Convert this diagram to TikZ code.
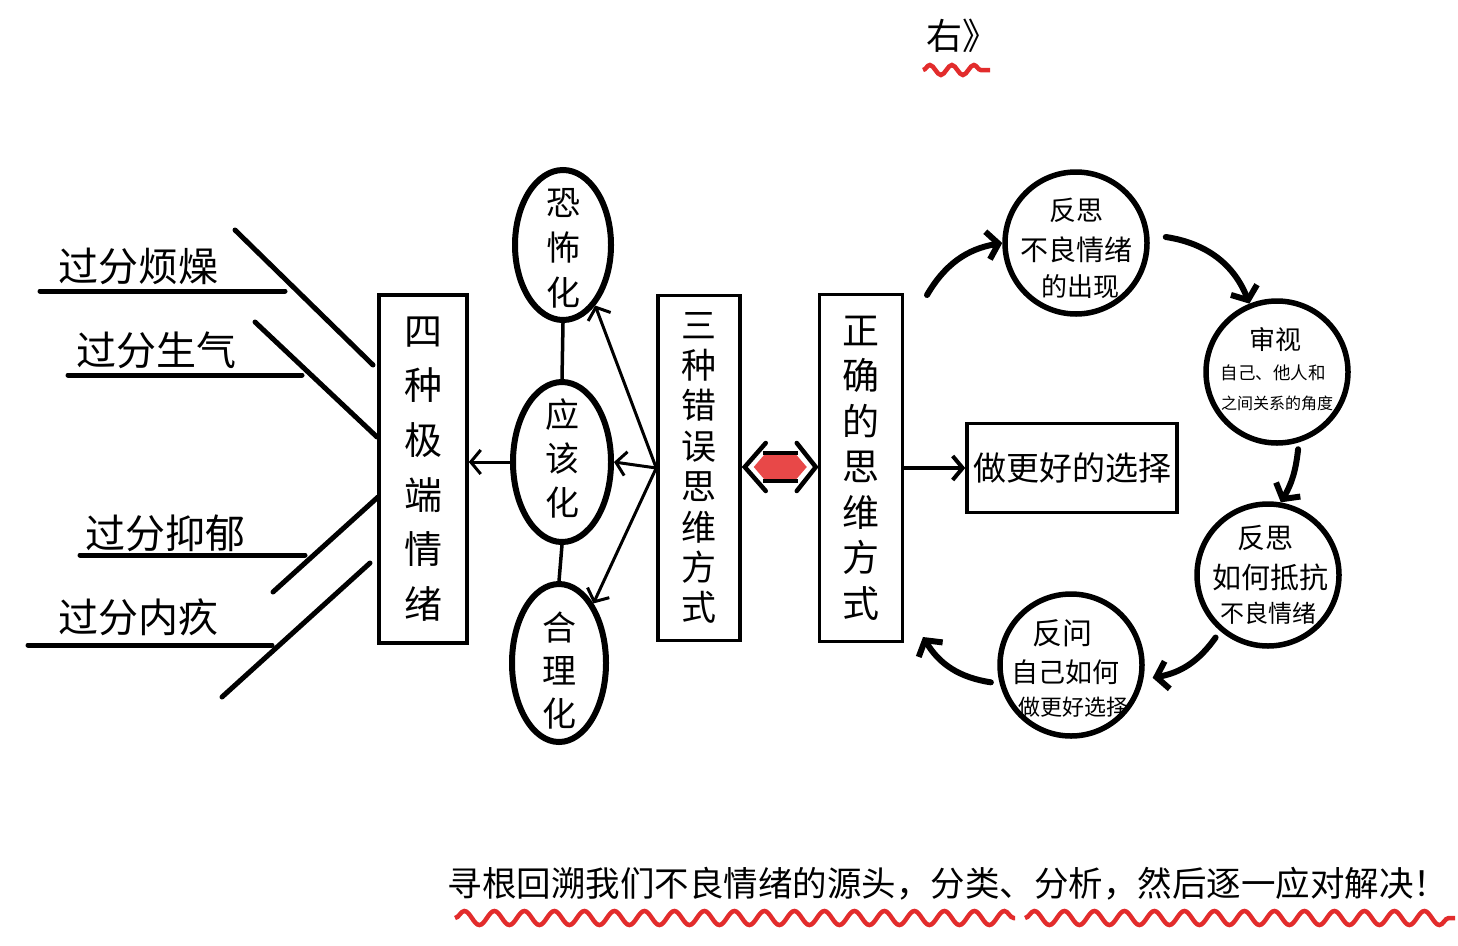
\documentclass[tikz,border=0pt]{standalone}
\usepackage{fontspec}
\newfontfamily\cjk{Noto Sans CJK SC}
\usetikzlibrary{arrows.meta,shapes.geometric,decorations.pathmorphing,calc}
\definecolor{wavered}{RGB}{226,44,44}
\definecolor{fillred}{RGB}{232,72,72}
\newcommand{\fs}[2]{\fontsize{#1}{#2}\selectfont}
\begin{document}
\begin{tikzpicture}[x=1pt,y=-1pt,
  box/.style={draw, line width=3.5pt, rectangle, inner sep=0pt, align=center, font=\cjk},
  oval/.style={draw, ellipse, line width=6pt, inner sep=0pt},
  ring/.style={draw, circle, line width=5.5pt, inner sep=0pt, minimum size=142pt},
  lbl/.style={inner sep=0pt, font=\cjk},
  vtext/.style={inner sep=0pt, align=center, font=\cjk},
  bar/.style={line width=5pt, line cap=round},
  thin/.style={line width=3.5pt},
  arr/.style={line width=3pt, -{Straight Barb[length=10pt,width=24pt]}},
  curv/.style={line width=6pt, line cap=round, -{Straight Barb[length=11pt,width=28pt]}},
  wave/.style={draw=wavered, line width=4.5pt, decorate, decoration={snake, amplitude=5pt, segment length=28pt}}
]
\useasboundingbox (0,0) rectangle (1458,945);

% top title
\node[lbl, font=\cjk\fs{36}{40}] (top) at (962,36) {右》};
\draw[wave, decoration={snake, amplitude=5pt, segment length=22pt}] (923,70) -- (990,70);

% left labels
\node[lbl, font=\cjk\fs{40}{44}] (l1) at (138,266) {过分烦燥};
\node[lbl, font=\cjk\fs{40}{44}] (l2) at (156,350) {过分生气};
\node[lbl, font=\cjk\fs{40}{44}] (l3) at (165,533) {过分抑郁};
\node[lbl, font=\cjk\fs{40}{44}] (l4) at (138,617) {过分内疚};
\coordinate (u1a) at (40,291);  \coordinate (u1b) at (285,291);
\coordinate (u2a) at (68,375);  \coordinate (u2b) at (302,375);
\coordinate (u3a) at (80,555);  \coordinate (u3b) at (305,555);
\coordinate (u4a) at (28,645);  \coordinate (u4b) at (272,645);
\draw[bar] (u1a) -- (u1b);
\draw[bar] (u2a) -- (u2b);
\draw[bar] (u3a) -- (u3b);
\draw[bar] (u4a) -- (u4b);
\coordinate (d1a) at (235,230); \coordinate (d1b) at (373,365);
\coordinate (d2a) at (255,322); \coordinate (d2b) at (377,437);
\coordinate (d3a) at (273,592); \coordinate (d3b) at (378,497);
\coordinate (d4a) at (222,697); \coordinate (d4b) at (370,563);
\draw[bar] (d1a) -- (d1b);
\draw[bar] (d2a) -- (d2b);
\draw[bar] (d3a) -- (d3b);
\draw[bar] (d4a) -- (d4b);

% boxes
\node[box, minimum width=88pt, minimum height=348pt, font=\cjk\fs{38}{54.6}] (m4) at (423,469) {四\\种\\极\\端\\情\\绪};
\node[box, minimum width=82pt, minimum height=345pt, font=\cjk\fs{35}{40.4}] (m3) at (699,468) {三\\种\\错\\误\\思\\维\\方\\式};
\node[box, minimum width=83pt, minimum height=347pt, font=\cjk\fs{37}{45.5}] (mz) at (861,468) {正\\确\\的\\思\\维\\方\\式};
\node[box, minimum width=210pt, minimum height=89pt, font=\cjk\fs{33}{36}] (ch) at (1072,468) {做更好的选择};

% ellipses
\node[oval, minimum width=96pt, minimum height=150pt] (e1) at (563,245) {};
\node[vtext, font=\cjk\fs{34}{45}] (e1t) at (563,248) {恐\\怖\\化};
\node[oval, minimum width=98pt, minimum height=160pt] (e2) at (562,462) {};
\node[vtext, font=\cjk\fs{34}{44}] (e2t) at (562,458) {应\\该\\化};
\node[oval, minimum width=94pt, minimum height=158pt] (e3) at (559,663) {};
\node[vtext, font=\cjk\fs{34}{43}] (e3t) at (559,671) {合\\理\\化};
\draw[thin] (e1.south) -- (e2.north);
\draw[thin] (e2.south) -- (e3.north);

% arrows of the middle part
\draw[arr] (m3.west) -- (e1.-62);
\draw[arr] (m3.west) -- (e2.east);
\draw[arr] (m3.west) -- (e3.60);
\draw[arr] (e2.west) -- (e2.west -| m4.east);
\draw[arr, line width=4pt] (mz.east) -- (ch.west);

% red double arrow
\coordinate (dl) at ($(m3.east)+(3,-1)$);
\coordinate (dr) at ($(mz.west)+(-2,-1)$);
\fill[fillred] ($(dl)+(9,0)$) -- ($(dl)+(21,-14)$) -- ($(dr)+(-21,-14)$) -- ($(dr)+(-9,0)$) -- ($(dr)+(-21,14)$) -- ($(dl)+(21,14)$) -- cycle;
\draw[line width=3.5pt] ($(dl)+(18,-14)$) -- ($(dr)+(-18,-14)$);
\draw[line width=3.5pt] ($(dl)+(18,14)$) -- ($(dr)+(-18,14)$);
\draw[line width=4.5pt, line cap=round, line join=miter] ($(dl)+(21,-24)$) -- (dl) -- ($(dl)+(21,24)$);
\draw[line width=4.5pt, line cap=round, line join=miter] ($(dr)+(-19,-24)$) -- (dr) -- ($(dr)+(-19,24)$);

% cycle circles
\node[ring] (c1) at (1076,243) {};
\node[lbl, font=\cjk\fs{27}{30}] (c1a) at (1076,210) {反思};
\node[lbl, font=\cjk\fs{28}{30}] (c1b) at (1076,250) {不良情绪};
\node[lbl, font=\cjk\fs{26}{30}] (c1c) at (1080,287) {的出现};

\node[ring] (c2) at (1277,372) {};
\node[lbl, font=\cjk\fs{26}{30}] (c2a) at (1275,340) {审视};
\node[lbl, font=\cjk\fs{17.5}{20}] (c2b) at (1273,373) {自己、他人和};
\node[lbl, font=\cjk\fs{16}{20}] (c2c) at (1277,403) {之间关系的角度};

\node[ring] (c3) at (1268,575) {};
\node[lbl, font=\cjk\fs{28}{30}] (c3a) at (1265,538) {反思};
\node[lbl, font=\cjk\fs{29}{32}] (c3b) at (1270,577) {如何抵抗};
\node[lbl, font=\cjk\fs{24}{28}] (c3c) at (1268,613) {不良情绪};

\node[ring] (c4) at (1071,665) {};
\node[lbl, font=\cjk\fs{30}{32}] (c4a) at (1062,633) {反问};
\node[lbl, font=\cjk\fs{27}{30}] (c4b) at (1065,672) {自己如何};
\node[lbl, font=\cjk\fs{22}{26}] (c4c) at (1073,707) {做更好选择};

\coordinate (k0) at (927,295);
\coordinate (k5) at (923,637);
\draw[curv] (k0) to[bend left=25] (c1.west);
\draw[curv] ($(c1.east)+(16,-6)$) to[bend left=30] (c2.112);
\draw[curv] ($(c2.-75)+(2,6)$) to[bend left=12] (c3.80);
\draw[curv] ($(c3.-130)+(-5,6)$) to[bend left=22] ($(c4.-10)+(9,0)$);
\draw[curv] ($(c4.-168)+(-8,2)$) to[bend left=25] (k5);

% bottom sentence
\node[lbl, font=\cjk\fs{34.5}{38}] (bottom) at (948,884) {寻根回溯我们不良情绪的源头，分类、分析，然后逐一应对解决！};
\draw[wave, decoration={snake, amplitude=7pt, segment length=30pt}] (455,918) -- (1015,918);
\draw[wave, decoration={snake, amplitude=7pt, segment length=30pt}] (1025,918) -- (1455,918);
\end{tikzpicture}
\end{document}
